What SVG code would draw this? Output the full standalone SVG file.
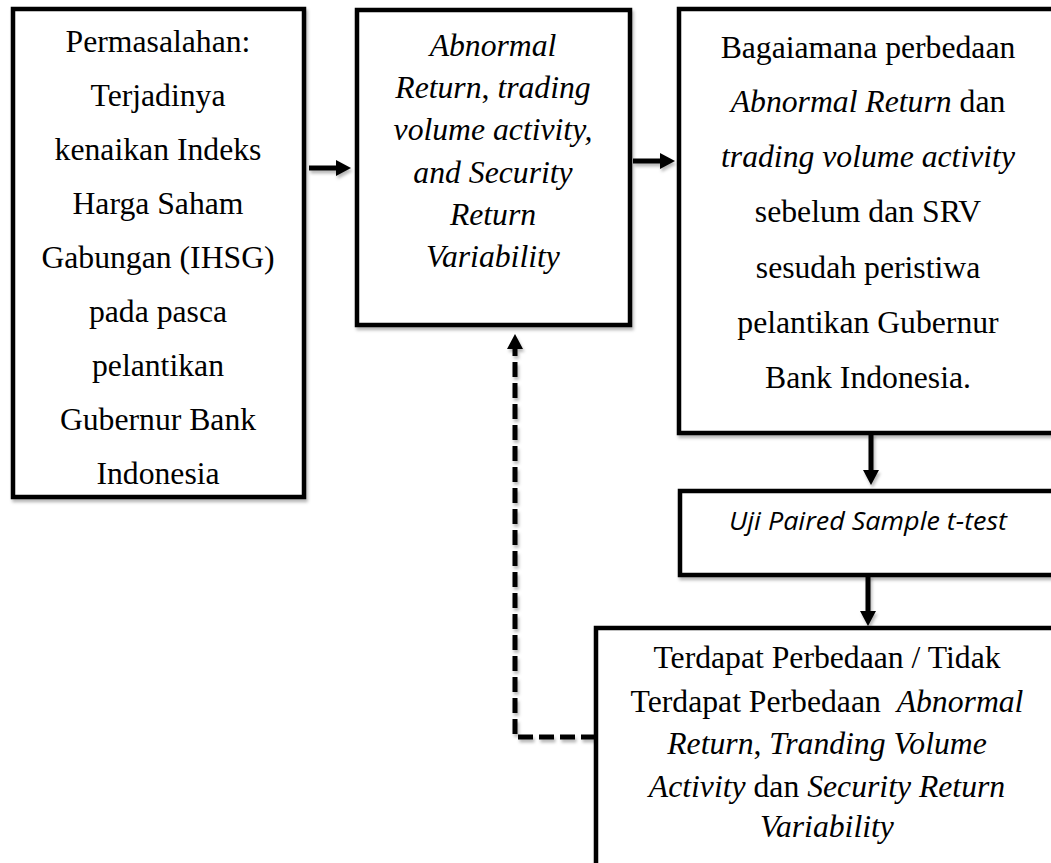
<svg xmlns="http://www.w3.org/2000/svg" width="1051" height="863" viewBox="0 0 1051 863">
  <defs>
    <filter id="sh" x="-5%" y="-5%" width="115%" height="115%">
      <feDropShadow dx="1.5" dy="3" stdDeviation="1.8" flood-color="#000" flood-opacity="0.28"/>
    </filter>
    <marker id="ah" markerUnits="userSpaceOnUse" markerWidth="16" markerHeight="17" refX="0" refY="8" orient="auto" overflow="visible">
      <path d="M0,0 L15,8 L0,16 z" fill="#000"/>
    </marker>
  </defs>
  <style>
    .box { fill: #fff; stroke: #000; stroke-width: 4.5; }
    .t { font-family: "Liberation Serif", "Times New Roman", serif; font-size: 31.7px; fill: #000; text-anchor: middle; }
    .i { font-style: italic; }
    .n { font-style: normal; }
    .s { font-family: "Open Sans", "Liberation Sans", sans-serif; font-style: italic; font-size: 25px; fill: #000; text-anchor: middle; }
    .c { fill: none; stroke: #000; stroke-width: 5; }
    .d { stroke-dasharray: 15 6; }
  </style>
  <rect width="1051" height="863" fill="#fff"/>

  <g id="connectors" filter="url(#sh)">
    <line class="c" x1="309" y1="168" x2="336" y2="168" marker-end="url(#ah)"/>
    <line class="c" x1="633" y1="161" x2="660" y2="161" marker-end="url(#ah)"/>
    <line class="c" x1="871" y1="433" x2="871" y2="470" marker-end="url(#ah)"/>
    <line class="c" x1="868" y1="575" x2="868" y2="611" marker-end="url(#ah)"/>
    <path class="c d" d="M596,737 H515 V349" marker-end="url(#ah)"/>
  </g>

  <g id="node-permasalahan">
    <rect class="box" x="13" y="9" width="291" height="488" filter="url(#sh)"/>
    <text class="t" x="158" y="52">Permasalahan:</text>
    <text class="t" x="158" y="106">Terjadinya</text>
    <text class="t" x="158" y="160">kenaikan Indeks</text>
    <text class="t" x="158" y="214">Harga Saham</text>
    <text class="t" x="158" y="268">Gabungan (IHSG)</text>
    <text class="t" x="158" y="322">pada pasca</text>
    <text class="t" x="158" y="376">pelantikan</text>
    <text class="t" x="158" y="430">Gubernur Bank</text>
    <text class="t" x="158" y="484">Indonesia</text>
  </g>

  <g id="node-variabel">
    <rect class="box" x="357" y="10" width="273" height="315" filter="url(#sh)"/>
    <text class="t i" x="493" y="56">Abnormal</text>
    <text class="t i" x="493" y="98">Return<tspan class="n">,</tspan> trading</text>
    <text class="t i" x="493" y="140">volume activity,</text>
    <text class="t i" x="493" y="183">and Security</text>
    <text class="t i" x="493" y="225">Return</text>
    <text class="t i" x="493" y="267">Variability</text>
  </g>

  <g id="node-rumusan">
    <rect class="box" x="679" y="9" width="380" height="424" filter="url(#sh)"/>
    <text class="t" x="868" y="58">Bagaiamana perbedaan</text>
    <text class="t" x="868" y="112"><tspan class="i">Abnormal Return</tspan> dan</text>
    <text class="t i" x="868" y="167">trading volume activity</text>
    <text class="t" x="868" y="222">sebelum dan SRV</text>
    <text class="t" x="868" y="278">sesudah peristiwa</text>
    <text class="t" x="868" y="333">pelantikan Gubernur</text>
    <text class="t" x="868" y="388">Bank Indonesia.</text>
  </g>

  <g id="node-uji">
    <rect class="box" x="680" y="491" width="380" height="84" filter="url(#sh)"/>
    <text class="s" x="868" y="530" textLength="278" lengthAdjust="spacingAndGlyphs">Uji Paired Sample t-test</text>
  </g>

  <g id="node-hasil">
    <rect class="box" x="596" y="628" width="462" height="250" filter="url(#sh)"/>
    <text class="t" x="827" y="668">Terdapat Perbedaan / Tidak</text>
    <text class="t" x="827" y="712" xml:space="preserve">Terdapat Perbedaan  <tspan class="i">Abnormal</tspan></text>
    <text class="t" x="827" y="754"><tspan class="i">Return</tspan>, <tspan class="i">Tranding Volume</tspan></text>
    <text class="t" x="827" y="797"><tspan class="i">Activity</tspan> dan <tspan class="i">Security Return</tspan></text>
    <text class="t i" x="827" y="837">Variability</text>
  </g>
</svg>
